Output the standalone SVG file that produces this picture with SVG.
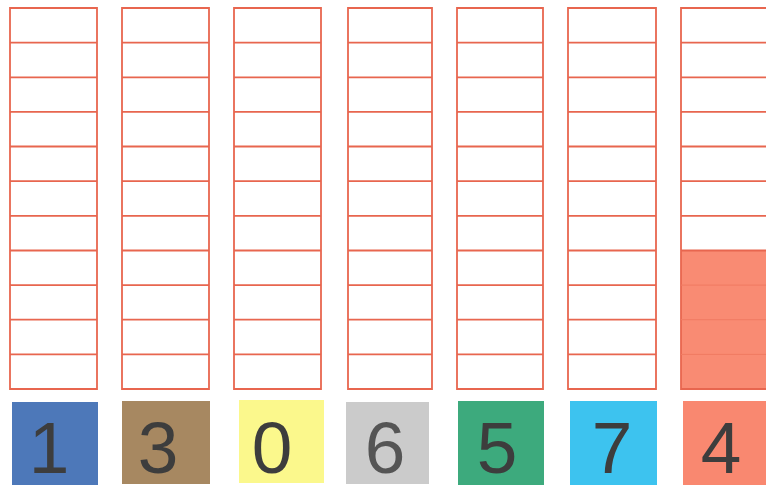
<svg xmlns="http://www.w3.org/2000/svg" width="766" height="488" viewBox="0 0 766 488">
<defs>
<style>
.grid{fill:none;stroke:#e8664f;stroke-width:1.8}
.fill{fill:#f98b73}
.sq{stroke:none}
.num{font-family:"Liberation Sans",Arial,sans-serif;font-size:73px;fill:#3d3d3d;text-anchor:middle}
</style>
</defs>
<rect width="766" height="488" fill="#ffffff"/>
<g id="column1">
<path class="grid" d="M10,8H97V389H10Z M10,42.6H97 M10,77.3H97 M10,111.9H97 M10,146.5H97 M10,181.2H97 M10,215.8H97 M10,250.5H97 M10,285.1H97 M10,319.7H97 M10,354.4H97"/>
<rect class="sq" x="12" y="402" width="86" height="83" fill="#4d78b9"/>
<text class="num" x="49" y="473">1</text>
</g>
<g id="column2">
<path class="grid" d="M122,8H209V389H122Z M122,42.6H209 M122,77.3H209 M122,111.9H209 M122,146.5H209 M122,181.2H209 M122,215.8H209 M122,250.5H209 M122,285.1H209 M122,319.7H209 M122,354.4H209"/>
<rect class="sq" x="122" y="401" width="88" height="83" fill="#a78861"/>
<text class="num" x="158" y="473">3</text>
</g>
<g id="column3">
<path class="grid" d="M234,8H321V389H234Z M234,42.6H321 M234,77.3H321 M234,111.9H321 M234,146.5H321 M234,181.2H321 M234,215.8H321 M234,250.5H321 M234,285.1H321 M234,319.7H321 M234,354.4H321"/>
<rect class="sq" x="239" y="400" width="85" height="83" fill="#fbf88c"/>
<text class="num" x="272" y="473">0</text>
</g>
<g id="column4">
<path class="grid" d="M348,8H432V389H348Z M348,42.6H432 M348,77.3H432 M348,111.9H432 M348,146.5H432 M348,181.2H432 M348,215.8H432 M348,250.5H432 M348,285.1H432 M348,319.7H432 M348,354.4H432"/>
<rect class="sq" x="346" y="402" width="83" height="82" fill="#cbcbcb"/>
<text class="num" x="385" y="473" style="fill:#555555">6</text>
</g>
<g id="column5">
<path class="grid" d="M457,8H543V389H457Z M457,42.6H543 M457,77.3H543 M457,111.9H543 M457,146.5H543 M457,181.2H543 M457,215.8H543 M457,250.5H543 M457,285.1H543 M457,319.7H543 M457,354.4H543"/>
<rect class="sq" x="458" y="401" width="86" height="84" fill="#3daa7d"/>
<text class="num" x="497" y="473">5</text>
</g>
<g id="column6">
<path class="grid" d="M568,8H656V389H568Z M568,42.6H656 M568,77.3H656 M568,111.9H656 M568,146.5H656 M568,181.2H656 M568,215.8H656 M568,250.5H656 M568,285.1H656 M568,319.7H656 M568,354.4H656"/>
<rect class="sq" x="570" y="401" width="87" height="84" fill="#3dc3ef"/>
<text class="num" x="612" y="473">7</text>
</g>
<g id="column7">
<rect class="fill" x="681" y="250.5" width="90" height="138.5"/>
<path class="grid" d="M681,8H770V389H681Z M681,42.6H770 M681,77.3H770 M681,111.9H770 M681,146.5H770 M681,181.2H770 M681,215.8H770 M681,250.5H770"/>
<path d="M681,285.1H770 M681,319.7H770 M681,354.4H770" fill="none" stroke="#f07a62" stroke-width="1"/>
<rect class="sq" x="683" y="401" width="90" height="84" fill="#f98870"/>
<text class="num" x="721" y="473">4</text>
</g>
</svg>
